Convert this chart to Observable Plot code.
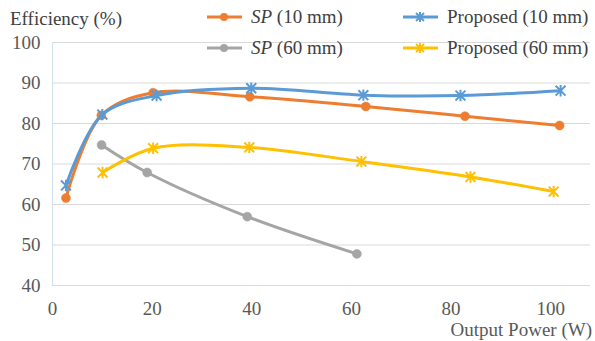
<!DOCTYPE html>
<html>
<head>
<meta charset="utf-8">
<script src="https://cdn.jsdelivr.net/npm/d3@7"></script>
<script src="https://cdn.jsdelivr.net/npm/@observablehq/plot@0.6"></script>
</head>
<body style="margin:0;padding:0;background:#fff">
<div id="wrap" style="position:relative;width:595px;height:341px;font-family:'Liberation Serif';font-size:19px;color:#404040">
  <div style="position:absolute;left:10px;top:9px;line-height:20px;white-space:nowrap;font-family:'Liberation Serif';font-size:19px;color:#404040">Efficiency (%)</div>
  <div style="position:absolute;right:3px;top:320px;line-height:20px;white-space:nowrap;font-family:'Liberation Serif';font-size:19px;color:#595959">Output Power (W)</div>
  <div style="position:absolute;left:207px;top:7px;display:flex;align-items:center;line-height:20px;white-space:nowrap;font-family:'Liberation Serif';font-size:19px">
    <svg width="35" height="12" style="margin-right:9px"><line x1="0" y1="6" x2="35" y2="6" stroke="#ED7D31" stroke-width="3"/><circle cx="17" cy="6" r="4" fill="#ED7D31"/></svg><span><i>SP</i> (10 mm)</span>
  </div>
  <div style="position:absolute;left:403px;top:7px;display:flex;align-items:center;line-height:20px;white-space:nowrap;font-family:'Liberation Serif';font-size:19px">
    <svg width="35" height="12" style="margin-right:9px"><line x1="0" y1="6" x2="35" y2="6" stroke="#5B9BD5" stroke-width="3"/><path d="M13,2L21,10M21,2L13,10M17,1L17,11" stroke="#5B9BD5" stroke-width="2"/></svg><span>Proposed (10 mm)</span>
  </div>
  <div style="position:absolute;left:207px;top:38px;display:flex;align-items:center;line-height:20px;white-space:nowrap;font-family:'Liberation Serif';font-size:19px">
    <svg width="35" height="12" style="margin-right:9px"><line x1="0" y1="6" x2="35" y2="6" stroke="#A5A5A5" stroke-width="3"/><circle cx="17" cy="6" r="4" fill="#A5A5A5"/></svg><span><i>SP</i> (60 mm)</span>
  </div>
  <div style="position:absolute;left:403px;top:38px;display:flex;align-items:center;line-height:20px;white-space:nowrap;font-family:'Liberation Serif';font-size:19px">
    <svg width="35" height="12" style="margin-right:9px"><line x1="0" y1="6" x2="35" y2="6" stroke="#FFC000" stroke-width="3"/><path d="M13,2L21,10M21,2L13,10M17,1L17,11" stroke="#FFC000" stroke-width="2"/></svg><span>Proposed (60 mm)</span>
  </div>
</div>
<script>
// ---- data ----
const seriesNames = ["SP (10 mm)", "Proposed (10 mm)", "SP (60 mm)", "Proposed (60 mm)"];
const seriesColors = ["#ED7D31", "#5B9BD5", "#A5A5A5", "#FFC000"];

const sp10X = [2.7, 9.8, 20.2, 39.6, 62.9, 82.8, 101.8];
const sp10Y = [61.6, 82.0, 87.6, 86.6, 84.2, 81.8, 79.5];

const prop10X = [2.7, 10.0, 20.9, 39.9, 62.4, 81.9, 102.0];
const prop10Y = [64.7, 82.2, 86.9, 88.7, 87.0, 86.9, 88.1];

const sp60X = [9.85, 19.0, 39.1, 61.1];
const sp60Y = [74.7, 67.9, 57.0, 47.8];

const prop60X = [10.05, 20.2, 39.5, 62.0, 83.9, 100.6];
const prop60Y = [67.9, 73.9, 74.1, 70.6, 66.8, 63.2];

const xTicks = [0, 20, 40, 60, 80, 100];
const yTicks = [40, 50, 60, 70, 80, 90, 100];

const FONT = "'Liberation Serif'";

// ---- build tables ----
function rows(name, xs, ys) { return xs.map((x, i) => ({series: name, x, y: ys[i]})); }
const sp10 = rows(seriesNames[0], sp10X, sp10Y);
const prop10 = rows(seriesNames[1], prop10X, prop10Y);
const sp60 = rows(seriesNames[2], sp60X, sp60Y);
const prop60 = rows(seriesNames[3], prop60X, prop60Y);

// Excel-like "star" marker: an X with a vertical bar
const starSymbol = {
  draw(ctx, size) {
    const r = Math.sqrt(size) * 0.62;
    ctx.moveTo(-r, -r); ctx.lineTo(r, r);
    ctx.moveTo(r, -r); ctx.lineTo(-r, r);
    ctx.moveTo(0, -r * 1.15); ctx.lineTo(0, r * 1.15);
  }
};

const lineMark = (data, color) => Plot.line(data, {x: "x", y: "y", stroke: color, strokeWidth: 3, curve: "catmull-rom"});
const circleMark = (data, color) => Plot.dot(data, {x: "x", y: "y", r: 4.5, fill: color, stroke: color, strokeWidth: 0.5});
const starMark = (data, color) => Plot.dot(data, {x: "x", y: "y", r: 4.5, symbol: starSymbol, stroke: color, strokeWidth: 2});

const chart = Plot.plot({
  width: 595,
  height: 341,
  marginLeft: 52,
  marginRight: 5,
  marginTop: 42,
  marginBottom: 56,
  style: {fontFamily: FONT, fontSize: "19px", color: "#595959", background: "transparent"},
  x: {domain: [0, 108], ticks: xTicks, tickSize: 0, tickPadding: 16, label: null},
  y: {domain: [40, 100], ticks: yTicks, tickSize: 0, tickPadding: 12, label: null},
  marks: [
    Plot.ruleY(yTicks.filter(v => v > 40), {stroke: "#d9d9d9", strokeWidth: 1}),
    Plot.ruleY([40], {stroke: "#d3dbe6", strokeWidth: 1.2}),
    Plot.ruleX([0], {y1: 40, y2: 100, stroke: "#d4e1f1", strokeWidth: 1.2}),
    lineMark(sp10, seriesColors[0]),
    circleMark(sp10, seriesColors[0]),
    lineMark(prop10, seriesColors[1]),
    starMark(prop10, seriesColors[1]),
    lineMark(sp60, seriesColors[2]),
    circleMark(sp60, seriesColors[2]),
    lineMark(prop60, seriesColors[3]),
    starMark(prop60, seriesColors[3])
  ]
});
chart.setAttribute("font-family", "Liberation Serif");
chart.style.fontFamily = FONT;
chart.style.position = "absolute";
chart.style.left = "0px";
chart.style.top = "0px";
chart.querySelectorAll("text").forEach(t => { t.setAttribute("font-family", "Liberation Serif"); t.style.fontFamily = FONT; });
const wrap = document.getElementById("wrap");
wrap.insertBefore(chart, wrap.firstChild);
</script>
</body>
</html>
